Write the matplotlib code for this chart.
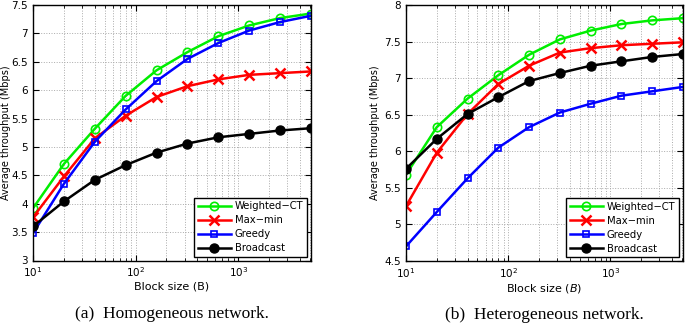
import numpy as np
import matplotlib
matplotlib.use('Agg')
import matplotlib.pyplot as plt
from matplotlib.ticker import LogLocator, MultipleLocator, FormatStrFormatter

block = [10, 20, 40, 80, 160, 320, 640, 1280, 2560, 5120]

# (a) homogeneous
hom_wct = [3.92, 4.70, 5.32, 5.90, 6.35, 6.67, 6.95, 7.14, 7.27, 7.35]
hom_maxmin = [3.76, 4.48, 5.15, 5.55, 5.88, 6.07, 6.19, 6.27, 6.30, 6.33]
hom_greedy = [3.48, 4.35, 5.09, 5.66, 6.16, 6.55, 6.83, 7.05, 7.20, 7.31]
hom_bcast = [3.60, 4.04, 4.42, 4.68, 4.90, 5.06, 5.17, 5.23, 5.29, 5.33]

# (b) heterogeneous
het_wct = [5.68, 6.33, 6.72, 7.04, 7.32, 7.53, 7.65, 7.74, 7.79, 7.82]
het_maxmin = [5.25, 5.98, 6.51, 6.92, 7.17, 7.35, 7.41, 7.45, 7.47, 7.49]
het_greedy = [4.70, 5.17, 5.63, 6.05, 6.33, 6.53, 6.65, 6.76, 6.82, 6.88]
het_bcast = [5.76, 6.17, 6.51, 6.74, 6.96, 7.07, 7.17, 7.23, 7.29, 7.33]

labels = ['Weighted\u2212CT', 'Max\u2212min', 'Greedy', 'Broadcast']
styles = [dict(color='#00ee00', marker='o', mfc='none', ms=6, mew=1.2),
          dict(color='#ff0000', marker='x', ms=7, mew=1.8),
          dict(color='#0000ff', marker='s', mfc='none', ms=5, mew=1.2),
          dict(color='black', marker='o', ms=6.5)]

fig = plt.figure(figsize=(6.91, 3.24), dpi=100)
ax1 = fig.add_axes([33/691, 1 - 260.5/324, 278/691, 255.5/324])
ax2 = fig.add_axes([406/691, 1 - 261/324, 277/691, 256/324])


def setup(ax, series, ylim, xlabel, caption, ylab_off):
    for ys, lab, st in zip(series, labels, styles):
        ax.plot(block, ys, label=lab, lw=1.8, **st)
    ax.set_xscale('log')
    ax.set_xlim(10, 5120)
    ax.set_ylim(*ylim)
    ax.yaxis.set_major_locator(MultipleLocator(0.5))
    ax.yaxis.set_major_formatter(FormatStrFormatter('%g'))
    ax.xaxis.set_minor_locator(LogLocator(base=10, subs=np.arange(2, 10)))
    ax.grid(True, which='major', ls=':', color='#aaaaaa', lw=0.7)
    ax.grid(True, which='minor', axis='x', ls=':', color='#aaaaaa', lw=0.7)
    ax.tick_params(which='both', direction='in', labelsize=7.5, top=True, right=True)
    ax.tick_params(which='major', length=4)
    ax.tick_params(which='minor', length=2)
    for s in ax.spines.values():
        s.set_linewidth(1.0)
    ax.set_ylabel('Average throughput (Mbps)', fontsize=7)
    ax.yaxis.set_label_coords(-ylab_off/277, 0.5)
    ax.set_xlabel(xlabel, fontsize=8, labelpad=2)
    leg = ax.legend(loc='lower right', fontsize=7.2, fancybox=False, framealpha=1,
                    edgecolor='black', borderpad=0.35, labelspacing=0.4,
                    handlelength=3.3, handletextpad=0.4, borderaxespad=0.4)
    leg.get_frame().set_linewidth(1.0)
    ax.text(0.5, -54/256, caption, transform=ax.transAxes, ha='center', va='center',
            fontsize=12.5, family='Liberation Serif')


setup(ax1, [hom_wct, hom_maxmin, hom_greedy, hom_bcast], (3, 7.5),
      'Block size (B)', '(a)  Homogeneous network.', 22)
setup(ax2, [het_wct, het_maxmin, het_greedy, het_bcast], (4.5, 8),
      'Block size ($B$)', '(b)  Heterogeneous network.', 26)

fig.savefig('out.png', dpi=100)
plt.close()
